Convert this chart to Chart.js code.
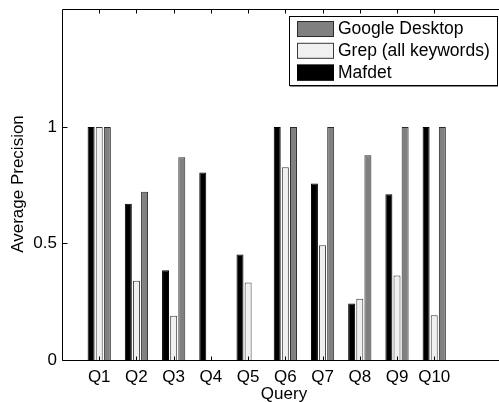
<!DOCTYPE html>
<html>
<head>
<meta charset="utf-8">
<script src="https://cdn.jsdelivr.net/npm/chart.js@4.4.0/dist/chart.umd.min.js"></script>
<style>
  html, body { margin: 0; padding: 0; background: #fff; overflow: hidden; }
</style>
</head>
<body>
<canvas id="grafico" width="499" height="402"></canvas>
<script>
const queries = ['Q1', 'Q2', 'Q3', 'Q4', 'Q5', 'Q6', 'Q7', 'Q8', 'Q9', 'Q10'];
const mafdet = [1, 0.67, 0.385, 0.805, 0.453, 1, 0.757, 0.242, 0.711, 1];
const grep = [1, 0.34, 0.19, 0, 0.332, 0.827, 0.492, 0.263, 0.363, 0.192];
const google = [1, 0.722, 0.87, 0, 0, 1, 1, 0.878, 1, 1];
const yTicks = [0, 0.5, 1];

const fonte = '"Liberation Sans", Arial, sans-serif';

function pontos(valores) {
  return valores.map((v, i) => ({ x: i + 1, y: v }));
}

const series = [
  { label: 'Mafdet', data: mafdet, color: '#000000', edge: '#000000' },
  { label: 'Grep (all keywords)', data: grep, color: '#f0f0f0', edge: '#3a3a3a' },
  { label: 'Google Desktop', data: google, color: '#808080', edge: '#2a2a2a' }
];

const molduraPlugin = {
  id: 'moldura',
  afterDraw(chart) {
    const ctx = chart.ctx;
    const a = chart.chartArea;
    const x = chart.scales.x;
    const y = chart.scales.y;
    const L = Math.round(a.left) + 0.5;
    const T = Math.round(a.top) + 0.5;
    const B = Math.round(a.bottom) + 0.5;
    const R = 499;

    ctx.save();
    ctx.strokeStyle = '#000';
    ctx.lineWidth = 1;
    ctx.beginPath();
    ctx.moveTo(L, B); ctx.lineTo(L, T); ctx.lineTo(R, T);
    ctx.moveTo(L, B); ctx.lineTo(R, B);
    // marcas internas do eixo x
    queries.forEach((q, i) => {
      const px = Math.round(x.getPixelForValue(i + 1)) + 0.5;
      ctx.moveTo(px, T); ctx.lineTo(px, T + 4);
      ctx.moveTo(px, B); ctx.lineTo(px, B - 4);
    });
    // marcas internas do eixo y
    yTicks.forEach(v => {
      const py = Math.round(y.getPixelForValue(v)) + 0.5;
      ctx.moveTo(L, py); ctx.lineTo(L + 5, py);
    });
    ctx.stroke();

    // titulos dos eixos
    ctx.fillStyle = '#000';
    ctx.font = '17px ' + fonte;
    ctx.textAlign = 'center';
    ctx.textBaseline = 'middle';
    ctx.fillText('Query', 284, 394);
    ctx.save();
    ctx.translate(18, 184);
    ctx.rotate(-Math.PI / 2);
    ctx.fillText('Average Precision', 0, 0);
    ctx.restore();

    // legenda
    ctx.fillStyle = '#888';
    ctx.fillRect(290, 86, 208, 1);
    ctx.fillStyle = '#fff';
    ctx.fillRect(289.5, 16.5, 208, 69);
    ctx.strokeStyle = '#000';
    ctx.strokeRect(289.5, 16.5, 208, 69);
    const ordem = [series[2], series[1], series[0]];
    ctx.font = '17.5px ' + fonte;
    ctx.textAlign = 'left';
    ordem.forEach((s, i) => {
      const top = 21 + i * 21.8;
      ctx.fillStyle = s.color;
      ctx.fillRect(297, top, 37, 16);
      ctx.strokeStyle = s.edge;
      ctx.strokeRect(297.5, top + 0.5, 36, 15);
      ctx.fillStyle = '#000';
      ctx.fillText(s.label, 338, top + 8.5);
    });
    ctx.restore();
  }
};

new Chart(document.getElementById('grafico'), {
  type: 'bar',
  data: {
    datasets: series.map(s => ({
      label: s.label,
      data: pontos(s.data),
      backgroundColor: s.color,
      borderColor: s.edge,
      borderWidth: 1,
      categoryPercentage: 0.655,
      barPercentage: 0.86
    }))
  },
  options: {
    responsive: false,
    animation: false,
    layout: { padding: { top: 9, left: 0, right: 0, bottom: 0 } },
    plugins: {
      legend: { display: false },
      tooltip: { enabled: false }
    },
    scales: {
      x: {
        type: 'linear',
        min: 0,
        max: 11.74,
        offset: false,
        grid: { display: false, drawTicks: false, offset: false },
        border: { display: false },
        afterFit: s => { s.height = 42; s.paddingLeft = 0; s.paddingRight = 0; },
        ticks: {
          stepSize: 1,
          includeBounds: false,
          autoSkip: false,
          maxRotation: 0,
          padding: 7,
          color: '#000',
          font: { family: fonte, size: 17 },
          callback: v => (Number.isInteger(v) && v >= 1 && v <= 10) ? queries[v - 1] : ''
        }
      },
      y: {
        min: 0,
        max: 1.506,
        grid: { display: false, drawTicks: false },
        border: { display: false },
        afterFit: s => { s.width = 62; s.paddingTop = 0; s.paddingBottom = 0; },
        afterBuildTicks: s => { s.ticks = yTicks.map(v => ({ value: v })); },
        ticks: {
          padding: 5,
          color: '#000',
          font: { family: fonte, size: 17 },
          callback: v => String(v)
        }
      }
    }
  },
  plugins: [molduraPlugin]
});
</script>
</body>
</html>
